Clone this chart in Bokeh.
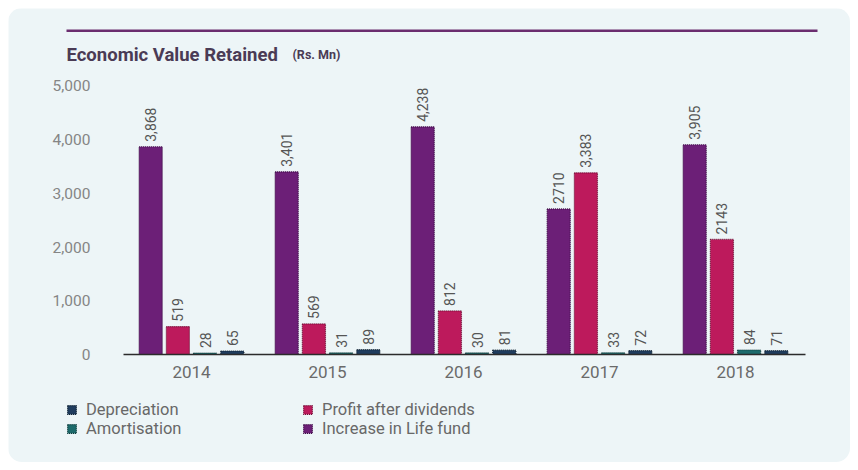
from bokeh.plotting import figure
from bokeh.models import (ColumnDataSource, Range1d, FixedTicker, NumeralTickFormatter,
                          LabelSet, Label, Legend, LegendItem, BoxAnnotation)
from bokeh.transform import dodge
from bokeh.core.properties import value
from bokeh.embed import file_html
from bokeh.resources import INLINE

years = ["2014", "2015", "2016", "2017", "2018"]
life_fund = [3868, 3401, 4238, 2710, 3905]
profit = [519, 569, 812, 3383, 2143]
amortisation = [28, 31, 30, 33, 84]
depreciation = [65, 89, 81, 72, 71]
life_fund_lbl = ["3,868", "3,401", "4,238", "2710", "3,905"]
profit_lbl = ["519", "569", "812", "3,383", "2143"]
amort_lbl = ["28", "31", "30", "33", "84"]
dep_lbl = ["65", "89", "81", "72", "71"]
y_ticks = [0, 1000, 2000, 3000, 4000, 5000]

BG = "#edf5f7"
C_LIFE = "#6c1f77"
C_PROFIT = "#bd1a5c"
C_AMORT = "#1d6b6c"
C_DEP = "#1f3c5e"

xpos = list(range(len(years)))
src = ColumnDataSource(dict(x=xpos, life=life_fund, profit=profit, amort=amortisation, dep=depreciation,
                            life_l=life_fund_lbl, profit_l=profit_lbl, amort_l=amort_lbl, dep_l=dep_lbl))

W, H = 842, 454
PX_X = 136.0            # pixels per category step
PX_Y = 282.0 / 5250.0   # pixels per value unit
x0 = -(191 - 8) / PX_X
y0 = -(462 - 354) / PX_Y
p = figure(width=W, height=H, x_range=Range1d(x0, x0 + W / PX_X), y_range=Range1d(y0, y0 + H / PX_Y),
           output_backend="svg", toolbar_location=None,
           background_fill_color=BG, border_fill_color=BG, outline_line_color=None,
           min_border_left=0, min_border_right=0, min_border_top=0, min_border_bottom=0)
p.styles = {"border-radius": "14px", "overflow": "hidden", "margin": "8px"}

series = [("life", "life_l", -0.3, C_LIFE, "#3d0d45"),
          ("profit", "profit_l", -0.1, C_PROFIT, "#6e0c33"),
          ("amort", "amort_l", 0.1, C_AMORT, "#0f3a3a"),
          ("dep", "dep_l", 0.3, C_DEP, "#0f2030")]
rends = {}
for col, lcol, off, color, edge in series:
    r = p.vbar(x=dodge("x", off), top=col, width=0.17, source=src,
               fill_color=color, line_color=edge, line_width=1.2, line_dash="1 1")
    rends[col] = r
    lbl = LabelSet(x=dodge("x", off), y=col, text=lcol, source=src,
                   angle=1.5708, text_align="left", text_baseline="middle", y_offset=5,
                   text_font=value("Roboto"), text_font_size="14px", text_color="#555555")
    p.add_layout(lbl)

p.xgrid.grid_line_color = None
p.ygrid.grid_line_color = None

p.yaxis.fixed_location = -0.5
p.yaxis.bounds = (0, 5000)
p.yaxis.ticker = FixedTicker(ticks=y_ticks)
p.yaxis.formatter = NumeralTickFormatter(format="0,0")
p.yaxis.axis_line_color = None
p.yaxis.major_tick_line_color = None
p.yaxis.minor_tick_line_color = None
p.yaxis.major_label_standoff = 27
p.yaxis.major_label_text_font = "Roboto"
p.yaxis.major_label_text_font_size = "15.5px"
p.yaxis.major_label_text_color = "#858585"

p.xaxis.fixed_location = 0
p.xaxis.bounds = (-0.5, 4.515)
p.xaxis.ticker = FixedTicker(ticks=xpos)
p.xaxis.major_label_overrides = {i: y for i, y in zip(xpos, years)}
p.xaxis.axis_line_color = "#2b2b2b"
p.xaxis.axis_line_width = 1.5
p.xaxis.major_tick_line_color = None
p.xaxis.minor_tick_line_color = None
p.xaxis.major_label_standoff = 5
p.xaxis.major_label_text_font = "Roboto"
p.xaxis.major_label_text_font_size = "17px"
p.xaxis.major_label_text_color = "#6a6a6a"

# title and top rule (screen units: canvas, origin bottom-left)
p.add_layout(BoxAnnotation(left=58, right=809, bottom=430.5, top=433, left_units="screen",
                           right_units="screen", bottom_units="screen", top_units="screen",
                           fill_color="#6b2d6f", fill_alpha=1, line_alpha=0))
p.add_layout(Label(x=58, y=408, x_units="screen", y_units="screen", text="Economic Value Retained",
                   text_font="Roboto", text_font_size="18.5px", text_font_style="bold",
                   text_color="#4a3b55", text_baseline="alphabetic"))
p.add_layout(Label(x=284, y=408, x_units="screen", y_units="screen", text="(Rs. Mn)",
                   text_font="Roboto", text_font_size="12.5px", text_font_style="bold",
                   text_color="#4a3b55", text_baseline="alphabetic"))

common = dict(orientation="vertical", padding=0, margin=0, spacing=0, glyph_width=11, glyph_height=11,
              label_height=14, label_standoff=9, label_text_font="Roboto", label_text_font_size="16.5px",
              label_text_color="#686868", background_fill_alpha=0, border_line_alpha=0)
leg1 = Legend(items=[LegendItem(label="Depreciation", renderers=[rends["dep"]]),
                     LegendItem(label="Amortisation", renderers=[rends["amort"]])],
              location=(58, 24), **common)
leg2 = Legend(items=[LegendItem(label="Profit after dividends", renderers=[rends["profit"]]),
                     LegendItem(label="Increase in Life fund", renderers=[rends["life"]])],
              location=(294, 24), **common)
p.add_layout(leg1)
p.add_layout(leg2)

open("out.html", "w").write(file_html(p, INLINE))
